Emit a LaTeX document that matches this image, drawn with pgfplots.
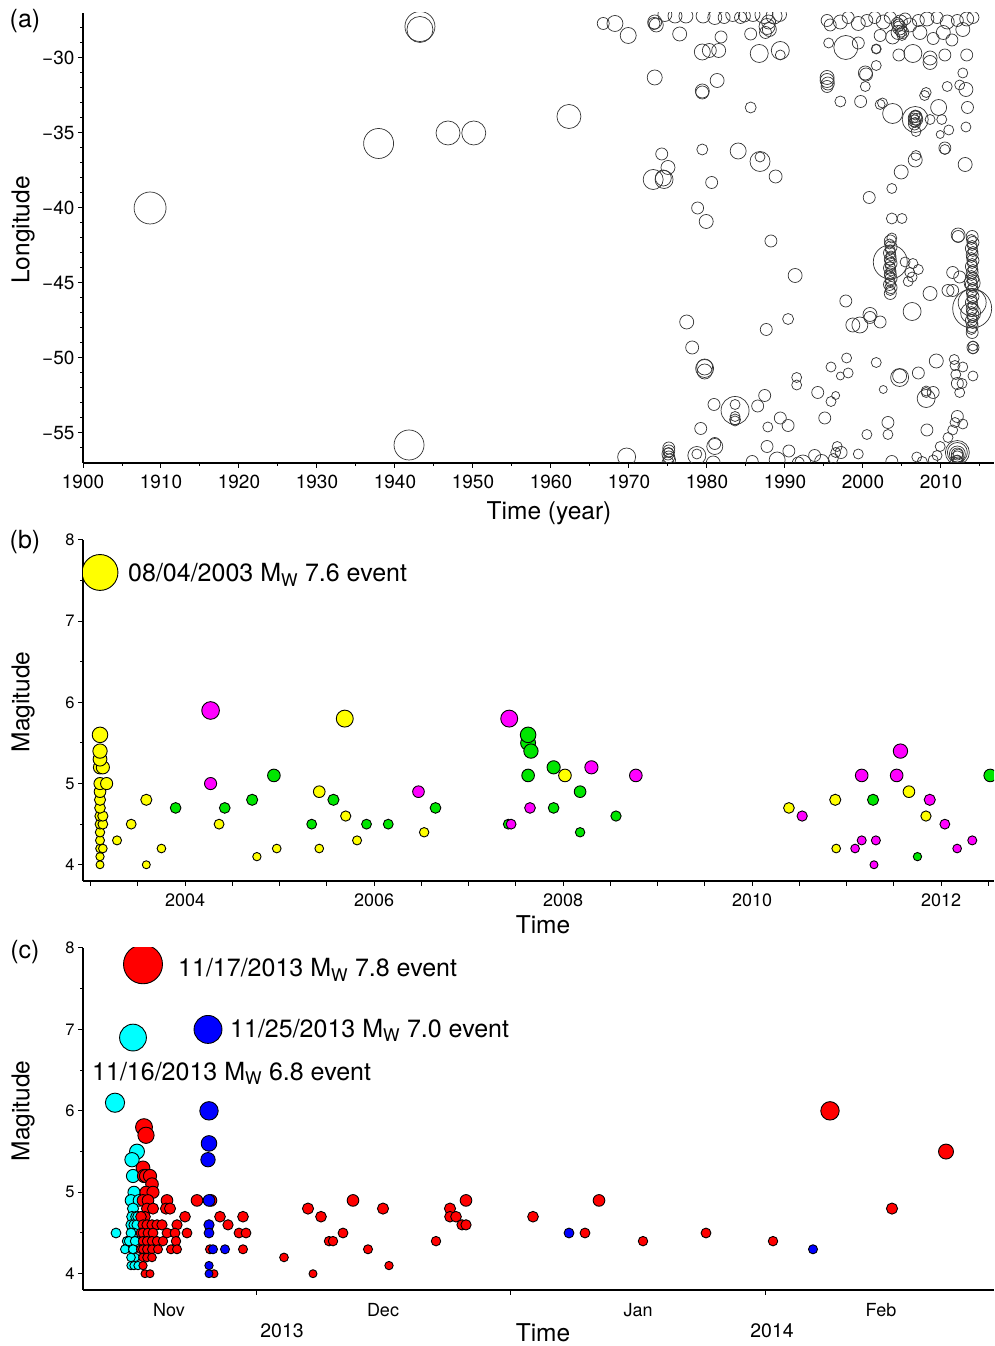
\documentclass[border=0pt]{standalone}
\usepackage{fontspec}
\setmainfont{TeX Gyre Heros}
\usepackage{pgfplots}
\pgfplotsset{compat=1.18}
\definecolor{qyellow}{RGB}{255,255,0}
\definecolor{qgreen}{RGB}{0,230,0}
\definecolor{qmag}{RGB}{255,0,255}
\definecolor{qcyan}{RGB}{0,255,255}
\definecolor{qred}{RGB}{255,0,0}
\definecolor{qblue}{RGB}{0,0,255}
\pgfplotsset{
  base/.style={
    scale only axis, width=911pt, anchor=south west,
    axis x line=bottom, axis y line=left,
    axis line style={line width=1.3pt,-},
    tick align=outside,
    major tick length=5pt, minor tick length=3pt,
    every tick/.style={black, line width=1pt},
    /pgf/number format/assume math mode=true,
    /pgf/number format/1000 sep={},
    clip marker paths=true,
  },
  quake/.style={only marks, mark=*, scatter,
    scatter/use mapped color={draw=black, fill=#1},
    visualization depends on={4*exp(0.4168*(\thisrow{y}-4)) \as \rr},
    scatter/@pre marker code/.append style={/tikz/mark size=\rr pt},
    mark options={line width=0.9pt}},
  ring/.style={only marks, mark=o, scatter,
    scatter/use mapped color={draw=black!80},
    visualization depends on={\thisrow{r} \as \rr},
    scatter/@pre marker code/.append style={/tikz/mark size=\rr pt},
    mark options={line width=0.7pt}},
}
\newcommand{\lbl}{\fontsize{24.5}{28}\selectfont}
\newcommand{\ann}{\fontsize{25}{29}\selectfont}
\begin{document}
\begin{tikzpicture}
\path[use as bounding box] (0,0) rectangle (994pt,1346pt);
% ---------------- (a)
\begin{axis}[base, at={(83pt,883pt)}, height=450pt,
  xmin=1900, xmax=2016.8, ymin=-57, ymax=-27,
  xtick={1900,1910,...,2010}, minor xtick={1905,1915,...,2015},
  ytick={-55,-50,-45,-40,-35,-30}, yticklabels={−55,−50,−45,−40,−35,−30},
  minor ytick={-56,-55,...,-28},
  tick label style={font=\fontsize{19}{22}\selectfont},
  xticklabel style={yshift=-4pt}]
\addplot[ring] table {
x y r
1908.6 -40.0 16
1937.9 -35.7 15
1941.8 -55.8 15
1943.2 -27.9 15
1943.2 -28.1 13
1946.8 -35.0 12
1950.1 -35.0 12
1962.3 -33.9 12
1966.7 -27.7 6
1968.2 -27.7 8
1969.9 -28.5 8
1973.3 -27.6 7
1973.5 -27.8 7
1973.2 -27.7 6
1974.6 -27.1 7
1975.9 -27.2 7
1977.3 -27.2 7
1976.5 -28.4 7
1979.5 -27.2 7
1981.0 -27.3 7
1982.2 -27.3 6
1983.3 -27.1 7
1984.3 -27.3 6
1984.8 -27.2 6
1985.9 -27.1 7
1987.3 -27.1 9
1988.6 -27.2 8
1989.3 -27.1 7
1987.7 -27.9 8
1988.0 -28.1 7
1987.5 -28.3 6
1987.9 -27.6 7
1985.6 -28.4 6
1981.8 -28.6 6
1979.4 -29.6 8
1980.3 -29.5 7
1981.5 -29.5 7
1986.7 -29.7 9
1989.4 -29.5 9
1989.4 -29.8 5
1973.3 -31.3 7.5
1981.3 -31.5 7
1979.4 -32.2 7
1979.4 -32.3 6.5
1985.6 -33.3 5.5
1979.4 -36.1 5.5
1984.0 -36.2 8
1986.8 -36.9 10
1986.8 -36.6 5
1988.8 -37.9 6.5
1974.2 -36.4 6
1975.0 -37.3 7
1973.1 -38.1 10
1974.5 -38.1 9
1974.4 -38.0 8
1980.6 -38.3 6
1978.8 -40.0 6
1979.9 -40.9 7
1988.2 -42.2 6
1995.4 -27.5 6
1995.8 -27.8 6
1997.1 -27.6 7
1998.1 -27.3 6
1999.4 -27.7 7
2000.5 -27.5 6
2001.5 -27.3 6
2002.6 -27.6 7
2003.5 -27.3 6
2004.4 -27.7 6
2005.4 -27.4 6
2006.0 -27.8 7
2007.1 -27.5 6
2008.2 -27.4 7
2009.5 -27.3 6
2010.8 -27.6 7
2012.1 -27.5 6
2013.3 -27.4 7
2014.1 -27.3 6
2004.7 -28.0 7
2004.6 -27.8 6
2004.9 -28.2 6
2004.5 -28.3 7
2004.8 -27.6 7
2005.0 -28.5 5
2002.2 -28.5 6
2003.8 -28.6 7
2005.1 -28.3 6
2007.3 -28.3 7
2009.0 -28.7 6
2010.3 -28.3 7
2012.8 -28.1 7
2011.4 -28.8 6
1995.6 -29.0 5
1997.8 -29.3 12
1999.4 -29.0 6
2001.7 -29.4 5
2001.7 -29.4 4.5
2004.6 -29.8 6
2006.4 -29.7 9
2008.6 -30.0 7
2008.6 -30.3 7
2010.5 -29.8 6
2013.3 -29.8 6
2001.7 -30.5 5
2000.3 -31.0 7
2000.4 -31.1 6.5
2000.3 -31.9 5
1995.4 -31.3 7
1995.4 -31.5 7
1995.5 -31.7 6.5
1995.4 -31.9 6
1997.1 -32.9 5.5
1999.7 -32.9 6
2002.2 -33.1 5
2002.5 -33.0 5
2003.8 -33.7 10
2007.9 -32.5 5
2008.1 -32.3 5
2009.7 -33.3 8
2010.8 -31.9 5
2012.4 -31.8 5
2013.2 -32.1 7
2012.8 -31.0 5
2013.4 -33.3 6
2006.7 -34.1 13
2006.7 -34.0 7
2006.6 -34.2 6
2006.8 -33.9 6
2006.7 -34.3 5
2006.5 -34.0 5
2006.9 -34.1 6
2006.7 -33.8 5
2006.6 -34.4 6
2008.6 -34.1 5
2010.1 -34.1 5
2009.9 -35.1 4
2011.0 -34.8 5
2013.2 -34.6 5
2006.8 -34.9 5
2010.5 -36.0 6
2010.5 -36.1 5
2006.8 -36.5 5
2006.7 -36.8 7
2013.1 -37.1 7
2004.9 -37.6 7
2003.7 -38.7 5
2000.8 -39.3 6
2003.7 -40.7 5.5
2005.0 -40.7 5
2012.2 -41.8 7
1991.3 -44.5 7
1977.4 -47.6 7
1987.6 -48.1 6
1990.4 -47.4 5.5
1978.1 -49.3 6.5
1979.7 -50.7 9
1979.7 -50.6 8
1979.7 -50.9 7.5
1991.5 -51.3 5
1991.5 -51.8 5
1980.9 -53.1 6
1983.6 -53.5 14
1983.6 -53.1 5
1983.6 -53.9 5
1983.6 -54.1 5.5
1983.6 -54.2 5
1987.4 -52.5 6
1986.5 -53.2 6
1989.4 -54.0 6
1990.4 -54.5 6
1979.2 -54.7 6
1987.8 -54.6 5
1987.7 -55.9 6
1990.5 -56.2 6
1989.0 -56.8 8
1981.0 -55.9 8
1981.0 -55.7 6
1978.7 -56.5 9
1978.7 -56.4 5
1980.8 -57.0 7
1969.7 -56.6 9
1975.1 -56.0 6
1975.1 -56.2 6
1975.0 -56.4 6
1975.1 -56.6 6
1975.2 -56.8 6
1975.0 -57.0 6
1975.1 -56.3 5
1984.6 -57.2 6
1985.8 -56.9 6
1991.7 -57.0 6
2003.7 -42.0 5
2003.5 -42.2 6
2003.4 -42.4 5
2003.6 -42.6 6
2003.5 -42.8 5
2003.4 -43.0 6
2003.6 -43.2 5
2003.5 -43.4 6
2003.4 -43.5 5
2003.6 -43.7 6
2003.5 -43.9 5
2003.4 -44.0 6
2003.6 -44.2 5
2003.5 -44.4 6
2003.4 -44.5 5
2003.6 -44.7 6
2003.5 -44.9 5
2003.4 -45.1 6
2003.6 -45.3 6
2003.5 -45.5 5
2003.5 -45.7 6
2003.5 -43.6 17
2005.4 -43.6 5
2006.4 -43.7 5
2007.1 -44.1 5
2006.0 -44.3 5
2005.8 -44.9 5
2006.3 -44.6 5
2008.6 -45.7 7
2006.3 -46.9 9
1997.8 -46.2 6
1999.6 -47.8 8
1998.7 -47.8 7
2000.9 -47.1 7
2000.9 -47.3 6
2002.2 -47.6 6
2012.2 -41.9 6
2011.5 -44.3 6
2012.4 -44.6 6
2010.9 -45.5 6
2011.5 -45.5 6
2014.0 -41.9 6
2013.9 -42.1 5
2014.1 -42.3 6
2014.0 -42.5 5
2013.9 -42.7 6
2014.1 -42.9 5
2014.0 -43.1 6
2013.9 -43.3 5
2014.1 -43.5 6
2014.0 -43.7 5
2013.9 -43.9 6
2014.1 -44.1 5
2014.0 -44.3 6
2013.9 -44.5 5
2014.1 -44.7 6
2014.0 -44.9 5
2013.9 -45.1 6
2014.1 -45.3 5
2014.0 -45.5 6
2013.9 -45.7 5
2014.1 -45.9 6
2014.0 -46.1 5
2013.9 -46.3 6
2014.1 -46.5 5
2014.0 -46.7 6
2013.9 -46.9 5
2014.1 -47.1 6
2014.0 -47.3 5
2013.9 -47.5 6
2014.1 -47.7 5
2014.0 -47.9 6
2013.9 -48.1 5
2014.0 -48.3 6
2014.0 -46.7 19.5
2014.0 -46.3 14
2013.8 -47.0 10
2014.0 -45.0 8
2014.1 -49.2 5
2014.1 -49.4 5
2014.1 -49.3 6
1997.9 -50.0 5
1995.9 -50.6 5
1997.1 -51.2 4
1998.1 -51.0 5
2001.7 -50.3 5
2004.7 -51.3 9
2004.7 -51.2 7
2007.1 -51.0 6
2009.4 -50.2 7
2011.7 -50.1 5
2011.8 -50.5 5
2012.8 -50.6 5
2011.9 -51.1 5
2014.1 -51.2 5
2012.7 -51.7 5
2012.1 -51.7 6
2012.4 -52.3 5
2008.1 -52.2 5
2008.1 -52.3 5
2009.0 -52.3 6
2008.1 -52.7 9
1994.2 -52.3 6
1995.9 -52.9 5
1996.5 -52.5 4
2002.6 -52.1 4
1995.1 -54.0 6
2003.2 -54.3 6
2003.2 -55.1 5
2000.5 -55.1 5
2008.2 -54.8 6
2012.1 -53.9 6
2011.8 -54.3 5
2012.8 -54.4 5
2011.5 -54.8 5
2010.9 -55.3 5
2009.9 -55.9 5
2012.1 -56.3 12
2012.1 -56.3 10
2012.1 -56.4 8
2012.1 -56.4 6
2012.1 -56.6 6
2012.0 -56.9 6
2012.2 -56.4 5
2012.1 -56.8 5
2012.2 -57.0 6
1996.7 -55.9 5
1996.2 -56.7 5
1997.2 -56.3 6
1996.5 -56.3 5
1993.8 -56.5 6
1994.7 -56.9 7
1992.3 -57.0 8
1999.4 -56.4 5
2001.8 -57.3 6
2003.7 -56.9 6
2005.8 -57.3 6
2006.9 -56.6 5
2007.6 -56.9 5
2009.0 -56.8 5
2009.5 -56.5 5
};
\end{axis}
% ---------------- (b)
\begin{axis}[base, at={(83pt,465pt)}, height=341pt,
  xmin=2002.92, xmax=2012.56, ymin=3.8, ymax=8,
  xtick={2004,2006,...,2012},
  extra x ticks={2003,2003.5,2004.5,2005,2005.5,2006.5,2007,2007.5,2008.5,2009,2009.5,2010.5,2011,2011.5,2012.5},
  extra x tick labels={},
  ytick={4,5,6,7,8}, minor ytick={4.5,5.5,6.5,7.5},
  xticklabel style={font=\fontsize{18}{21}\selectfont, yshift=-4pt},
  yticklabel style={font=\fontsize{16.5}{19}\selectfont}]
\addplot[quake=qyellow] table {
x y
2003.10 4.0
2003.10 4.1
2003.10 4.2
2003.13 4.2
2003.10 4.3
2003.10 4.4
2003.10 4.5
2003.13 4.5
2003.10 4.6
2003.13 4.6
2003.10 4.7
2003.10 4.8
2003.10 4.9
2003.10 5.0
2003.17 5.0
2003.10 5.2
2003.13 5.2
2003.10 5.3
2003.10 5.4
2003.10 5.6
2003.10 7.6
2003.28 4.3
2003.43 4.5
2003.59 4.8
2003.59 4.0
2003.75 4.2
2004.36 4.5
2004.76 4.1
2004.97 4.2
2005.42 4.9
2005.42 4.2
2005.69 5.8
2005.70 4.6
2005.82 4.3
2006.53 4.4
2008.02 5.1
2010.39 4.7
2010.88 4.8
2010.89 4.2
2011.66 4.9
2011.84 4.6
};
\addplot[quake=qgreen] table {
x y
2003.90 4.7
2004.42 4.7
2004.71 4.8
2004.94 5.1
2005.34 4.5
2005.57 4.8
2005.92 4.5
2006.15 4.5
2006.65 4.7
2007.42 4.5
2007.63 5.1
2007.63 5.5
2007.66 5.4
2007.63 5.6
2007.90 5.2
2007.90 4.7
2008.18 4.9
2008.18 4.4
2008.56 4.6
2011.28 4.8
2011.75 4.1
2012.52 5.1
};
\addplot[quake=qmag] table {
x y
2004.27 5.9
2004.27 5.0
2006.47 4.9
2007.43 5.8
2007.45 4.5
2007.65 4.7
2008.30 5.2
2008.77 5.1
2010.53 4.6
2011.16 5.1
2011.09 4.2
2011.16 4.3
2011.31 4.3
2011.29 4.0
2011.57 5.4
2011.53 5.1
2011.88 4.8
2012.04 4.5
2012.17 4.2
2012.33 4.3
};
\end{axis}
% ---------------- (c)
\begin{axis}[base, at={(83pt,56pt)}, height=342pt,
  xmin=83, xmax=994, ymin=3.8, ymax=8,
  xtick={256,510,765}, xticklabels={},
  ytick={4,5,6,7,8}, minor ytick={4.5,5.5,6.5,7.5},
  yticklabel style={font=\fontsize{16.5}{19}\selectfont}]
\addplot[quake=qcyan] table {
x y
133 6.9
115 6.1
116 4.5
137 5.5
132 5.4
133 5.2
134 5.0
131 4.9
139 4.9
133 4.8
132 4.7
136 4.7
138 4.7
131 4.6
134 4.6
137 4.6
134 4.5
131 4.5
127 4.4
129 4.4
135 4.4
125 4.3
133 4.3
135 4.2
131 4.2
131 4.1
134 4.1
138 4.1
};
\addplot[quake=qred] table {
x y
143 7.8
144 5.8
146 5.7
143 5.3
144 5.2
146 5.2
150 5.2
152 5.1
146 5.0
153 5.0
143 4.9
148 4.9
147 4.8
153 4.8
145 4.7
141 4.7
143 4.6
147 4.6
152 4.6
157 4.6
162 4.6
141 4.5
143 4.5
148 4.5
153 4.5
143 4.4
147 4.4
152 4.4
157 4.4
163 4.4
141 4.3
143 4.3
147 4.3
152 4.3
158 4.3
143 4.2
147 4.2
152 4.2
143 4.1
145 4.0
150 4.0
167 4.9
166 4.8
170 4.8
185 4.7
177 4.6
167 4.5
175 4.5
187 4.5
176 4.4
171 4.3
177 4.3
197 4.9
211 4.9
210 4.3
214 4.0
220 4.7
228 4.6
239 4.5
243 4.7
246 4.5
243 4.3
284 4.2
308 4.8
313 4.0
321 4.7
329 4.4
333 4.4
343 4.5
353 4.9
368 4.3
383 4.8
389 4.1
436 4.4
450 4.8
450 4.7
456 4.7
462 4.6
466 4.6
466 4.9
533 4.7
585 4.5
599 4.9
643 4.4
706 4.5
773 4.4
830 6.0
892 4.8
946 5.5
};
\addplot[quake=qblue] table {
x y
208 7.0
209 6.0
209 5.6
208 5.4
209 4.9
209 4.6
209 4.5
213 4.3
225 4.3
209 4.1
209 4.0
569 4.5
813 4.3
};
\end{axis}
% ---------------- texts
\node at (25pt,1325pt) {\ann (a)};
\node at (25pt,804pt) {\ann (b)};
\node at (25pt,394pt) {\ann (c)};
\node[rotate=90] at (23pt,1116pt) {\lbl Longitude};
\node[rotate=90] at (23pt,644pt) {\lbl Magitude};
\node[rotate=90] at (23pt,235pt) {\lbl Magitude};
\node at (549pt,833pt) {\lbl Time (year)};
\node at (543pt,421pt) {\lbl Time};
\node at (543pt,13pt) {\lbl Time};
\node at (169pt,36pt) {\fontsize{18}{21}\selectfont Nov};
\node at (383pt,36pt) {\fontsize{18}{21}\selectfont Dec};
\node at (638pt,36pt) {\fontsize{18}{21}\selectfont Jan};
\node at (881pt,36pt) {\fontsize{18}{21}\selectfont Feb};
\node at (282pt,15.5pt) {\fontsize{19.5}{22}\selectfont 2013};
\node at (772pt,15.5pt) {\fontsize{19.5}{22}\selectfont 2014};
\node[anchor=base west, inner sep=0pt] at (128pt,764pt) {\ann 08/04/2003 M\textsubscript{W} 7.6 event};
\node[anchor=base west, inner sep=0pt] at (178pt,369pt) {\ann 11/17/2013 M\textsubscript{W} 7.8 event};
\node[anchor=base west, inner sep=0pt] at (230pt,308.5pt) {\ann 11/25/2013 M\textsubscript{W} 7.0 event};
\node[anchor=base west, inner sep=0pt] at (92pt,265.5pt) {\ann 11/16/2013 M\textsubscript{W} 6.8 event};
\end{tikzpicture}
\end{document}
